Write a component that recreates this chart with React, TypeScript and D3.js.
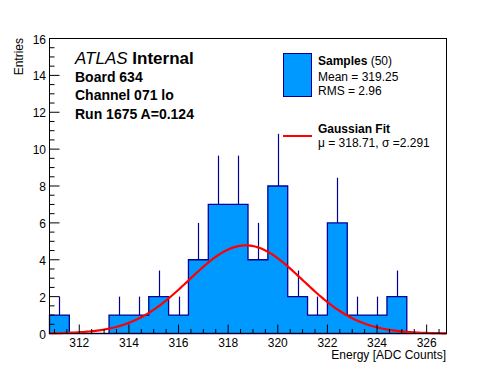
import React from "react";
import * as d3 from "d3";

const binLow = [310.8, 311.6, 312.4, 313.2, 314.0, 314.8, 315.6, 316.4, 317.2, 318.0, 318.8, 319.6, 320.4, 321.2, 322.0, 322.8, 323.6, 324.4, 325.2, 326.0];
const binCounts = [1, 0, 0, 1, 1, 2, 1, 4, 7, 7, 4, 8, 2, 1, 6, 1, 1, 2, 0, 0];
const binWidth = 0.8;
const xDomain = [310.8, 326.8];
const yDomain = [0, 16];
const xTickLabels = [312, 314, 316, 318, 320, 322, 324, 326];
const yTickLabels = [0, 2, 4, 6, 8, 10, 12, 14, 16];
const fitMu = 318.71;
const fitSigma = 2.291;
const fitAmp = 4.78;
const infoLines = ["Board 634", "Channel 071 lo", "Run 1675 A=0.124"];

const W = 496, H = 372;
const FONT = "'Liberation Sans', Arial, Helvetica, sans-serif";
const FILL = "#0099ff";
const EDGE = "#000099";

export default function App() {
  const x = d3.scaleLinear().domain(xDomain).range([49.5, 446.5]);
  const y = d3.scaleLinear().domain(yDomain).range([333.5, 38.5]);

  // step outline of the histogram
  const pts: [number, number][] = [];
  pts.push([x(binLow[0]), y(0)]);
  binLow.forEach((lo, i) => {
    pts.push([x(lo), y(binCounts[i])]);
    pts.push([x(lo + binWidth), y(binCounts[i])]);
  });
  pts.push([x(binLow[binLow.length - 1] + binWidth), y(0)]);
  const area = d3.line()(pts) + "Z";

  const fitX = d3.range(0, 201).map((k) => xDomain[0] + ((xDomain[1] - xDomain[0]) * k) / 200);
  const fitLine = d3
    .line<number>()
    .x((v) => x(v))
    .y((v) => y(fitAmp * Math.exp(-((v - fitMu) ** 2) / (2 * fitSigma * fitSigma))))(fitX);

  const xMinor = d3.range(311, 326.8, 0.5).filter((v) => !xTickLabels.includes(v));
  const yMinor = d3.range(0, 16.01, 0.5).filter((v) => !yTickLabels.includes(v));

  return (
    <svg width={W} height={H} style={{ position: "absolute", left: 0, top: 0, background: "#fff" }} fontFamily={FONT}>
      <rect x={0} y={0} width={W} height={H} fill="#fff" />
      {/* error bars */}
      {binLow.map((lo, i) =>
        binCounts[i] > 0 ? (
          <line key={"e" + i} x1={Math.round(x(lo + binWidth / 2)) + 0.5} x2={Math.round(x(lo + binWidth / 2)) + 0.5}
            y1={y(binCounts[i])} y2={y(binCounts[i] + Math.sqrt(binCounts[i]))} stroke={EDGE} strokeWidth={1.2} />
        ) : null
      )}
      <path d={area} fill={FILL} stroke={EDGE} strokeWidth={1.3} />
      <path d={fitLine || ""} fill="none" stroke="#ff0000" strokeWidth={2.2} />
      {/* frame */}
      <rect x={49.5} y={38.5} width={397} height={295} fill="none" stroke="#000" strokeWidth={1} />
      {/* x ticks */}
      {xTickLabels.map((v) => (
        <g key={"xt" + v}>
          <line x1={x(v)} x2={x(v)} y1={333.5} y2={324.5} stroke="#000" />
          <text x={x(v)} y={347} fontSize={12} textAnchor="middle">{v}</text>
        </g>
      ))}
      {xMinor.map((v) => (
        <line key={"xm" + v} x1={x(v)} x2={x(v)} y1={333.5} y2={329} stroke="#000" />
      ))}
      {/* y ticks */}
      {yTickLabels.map((v) => (
        <g key={"yt" + v}>
          <line x1={49.5} x2={59.5} y1={y(v)} y2={y(v)} stroke="#000" />
          <text x={46} y={y(v) + 5} fontSize={12} textAnchor="end">{v}</text>
        </g>
      ))}
      {yMinor.map((v) => (
        <line key={"ym" + v} x1={49.5} x2={54.5} y1={y(v)} y2={y(v)} stroke="#000" />
      ))}
      <text x={446} y={358.5} fontSize={12} textAnchor="end">Energy [ADC Counts]</text>
      <text transform="translate(23,38) rotate(-90)" fontSize={12} textAnchor="end">Entries</text>
      {/* ATLAS label */}
      <text x={75} y={64} fontSize={17}>
        <tspan fontStyle="italic">ATLAS</tspan>
        <tspan fontWeight="bold"> Internal</tspan>
      </text>
      {infoLines.map((t, i) => (
        <text key={t} x={75} y={82 + i * 18.3} fontSize={14} fontWeight="bold">{t}</text>
      ))}
      {/* legend */}
      <rect x={283.5} y={53.5} width={28} height={43} fill={FILL} stroke={EDGE} strokeWidth={1} />
      <text x={318} y={65} fontSize={12}>
        <tspan fontWeight="bold">Samples</tspan>
        <tspan> (50)</tspan>
      </text>
      <text x={318} y={80.5} fontSize={12}>Mean = 319.25</text>
      <text x={318} y={94.5} fontSize={12}>RMS = 2.96</text>
      <line x1={283} x2={312} y1={136} y2={136} stroke="#ff0000" strokeWidth={2} />
      <text x={318} y={133} fontSize={12} fontWeight="bold">Gaussian Fit</text>
      <text x={318} y={147} fontSize={12}>μ = 318.71, σ =2.291</text>
    </svg>
  );
}
